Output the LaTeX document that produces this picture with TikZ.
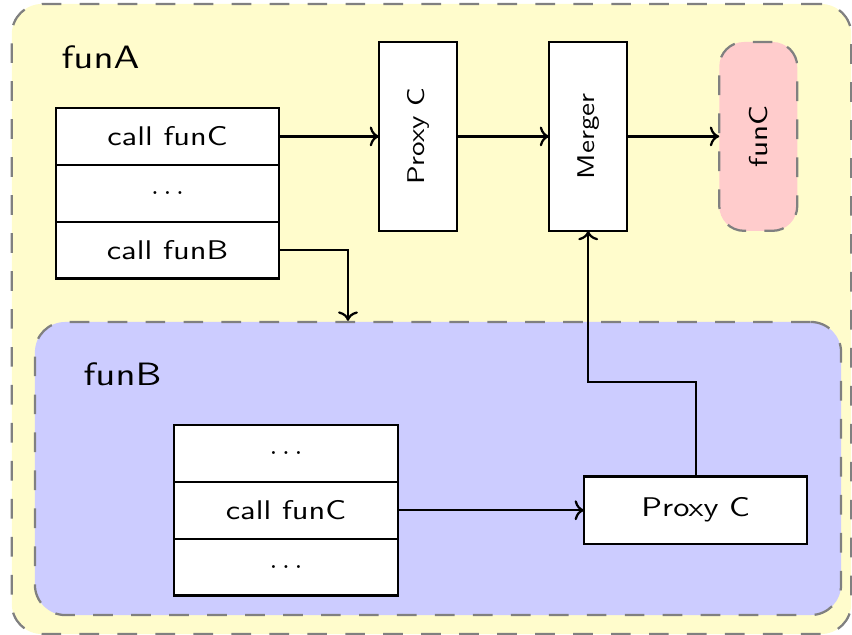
\documentclass[tikz,border=0pt]{standalone}
\usepackage{fontspec}
\setsansfont{lmsans10-regular.otf}[FakeStretch=1.2]
\usetikzlibrary{arrows.meta, positioning, calc}

\begin{document}
\begin{tikzpicture}[x=0.0125cm, y=-0.0125cm, >=To, node distance=1.15cm,
    font=\sffamily,
    frame/.style={draw=gray, thick, dash pattern=on 7pt off 6.5pt,
                  rounded corners=0.38cm},
    box/.style={draw, thick, fill=white, outer sep=0pt,
                font=\fontsize{9.6}{11}\sffamily},
    row/.style={box, minimum width=2.79cm, minimum height=0.71cm},
    tall/.style={box, minimum width=0.975cm, minimum height=2.36cm,
                 font=\fontsize{8.6}{10}\sffamily},
    title/.style={anchor=base west, inner sep=0pt,
                  font=\fontsize{11.5}{14}\sffamily}]
  \useasboundingbox (0,0) rectangle (852,635);

  % the two nested function frames
  \node[frame, fill=yellow!20, minimum width=10.49cm,
        minimum height=7.875cm] (funA) at (431.5,319) {};
  \node[frame, fill=blue!20, minimum width=10.075cm,
        minimum height=3.6625cm] (funB) at (438,468.5) {};
  \node[title] (labelA) at (61,68) {funA};
  \node[title] (labelB) at (83,385) {funB};

  % body of funA
  \node[row] (callC) at (167.5,136.4) {call funC};
  \node[row, below=0pt of callC] (dotsA) {$\dots$};
  \node[row, below=0pt of dotsA] (callB) {call funB};

  \node[tall, right=1.25cm of callC] (proxyA) {\rotatebox{90}{Proxy C}};
  \node[tall, right=of proxyA] (merger) {\rotatebox{90}{Merger}};
  \node[tall, frame, fill=red!20, rounded corners=0.31cm,
        font=\fontsize{9.2}{11}\sffamily, right=of merger] (funC)
    {\rotatebox{90}{funC}};

  % body of funB
  \node[row] (dotsB) at (286,453.4) {$\dots$};
  \node[row, below=0pt of dotsB] (callCB) {call funC};
  \node[row, below=0pt of callCB] (dotsC) {$\dots$};
  \node[box, minimum width=2.79cm, minimum height=0.84cm,
        right=2.33cm of callCB] (proxyB) {Proxy C};

  \coordinate (intoB) at ([xshift=-1.125cm]funB.north);

  \draw[->, thick] (callC) -- (proxyA);
  \draw[->, thick] (proxyA) -- (merger);
  \draw[->, thick] (merger) -- (funC);
  \draw[->, thick] (callB) -| (intoB);
  \draw[->, thick] (callCB) -- (proxyB);
  \draw[->, thick] (proxyB) -- ++(0,-128) -| (merger);
\end{tikzpicture}
\end{document}
